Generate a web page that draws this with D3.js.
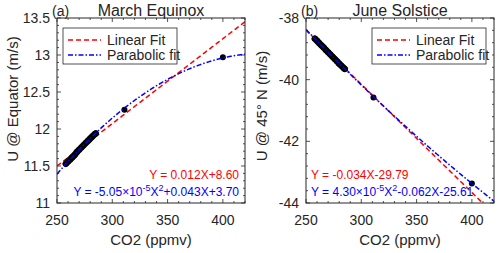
<!DOCTYPE html>
<html>
<head>
<meta charset="utf-8">
<script src="https://cdn.jsdelivr.net/npm/d3@7"></script>
<style>
  body { margin: 0; background: #fff; }
  svg text { font-family: "Liberation Sans", Arial, sans-serif; fill: #262626; }
</style>
</head>
<body>
<div id="chart"></div>
<script>
// ---- data ----
var co2Cluster = [258, 260, 262, 264, 266, 268, 270, 272, 274, 276, 278, 280, 282, 284, 285];
var co2Extra = [311, 400];
var uEquatorCluster = [11.53, 11.56, 11.59, 11.62, 11.65, 11.69, 11.72, 11.75, 11.78, 11.81, 11.84, 11.87, 11.90, 11.93, 11.94];
var uEquatorExtra = [12.26, 12.97];
var u45Cluster = [-38.67, -38.74, -38.82, -38.89, -38.96, -39.04, -39.11, -39.18, -39.26, -39.33, -39.40, -39.48, -39.55, -39.62, -39.65];
var u45Extra = [-40.58, -43.37];

// fit coefficients as drawn  [slope, intercept] and [a, b, c]
var linFitA = [0.01147, 8.632];
var parFitA = [-4.685e-5, 0.04092, 4.088];
var linFitB = [-0.0351, -29.62];
var parFitB = [2.727e-5, -0.05104, -27.314];

var xTicks = [250, 300, 350, 400];
var yTicksA = [11, 11.5, 12, 12.5, 13, 13.5];
var yTicksB = [-44, -42, -40, -38];
var legendLabels = ["Linear Fit", "Parabolic fit"];

var W = 500, H = 253;
var svg = d3.select("#chart").append("svg").attr("width", W).attr("height", H);

function panel(cfg){
	var g = svg.append("g");
	var x = d3.scaleLinear().domain([250, 420]).range([cfg.left, cfg.right]);
	var y = d3.scaleLinear().domain(cfg.ydom).range([203, 18]);
	var clipId = "clip" + cfg.id;
	svg.append("clipPath").attr("id", clipId).append("rect")
		.attr("x", cfg.left).attr("y", 18).attr("width", cfg.right - cfg.left).attr("height", 185);

	// ticks: inward on all four sides
	var minorX = d3.range(250, 421, 10);
	var minorY = d3.range(cfg.ydom[0], cfg.ydom[1] + 1e-9, cfg.minorStep);
	var tk = g.append("g").attr("stroke", "#262626").attr("stroke-width", 0.8);
	minorX.forEach(function(v){
		var len = xTicks.indexOf(v) >= 0 ? 4 : 2;
		tk.append("line").attr("x1", x(v)).attr("x2", x(v)).attr("y1", 203).attr("y2", 203 - len);
		tk.append("line").attr("x1", x(v)).attr("x2", x(v)).attr("y1", 18).attr("y2", 18 + len);
	});
	minorY.forEach(function(v){
		var major = cfg.yTicks.some(function(t){ return Math.abs(t - v) < 1e-6; });
		var len = major ? 4 : 2;
		tk.append("line").attr("y1", y(v)).attr("y2", y(v)).attr("x1", cfg.left).attr("x2", cfg.left + len);
		tk.append("line").attr("y1", y(v)).attr("y2", y(v)).attr("x1", cfg.right).attr("x2", cfg.right - len);
	});

	// tick labels
	g.selectAll(".xt").data(xTicks).enter().append("text")
		.attr("x", function(d){ return x(d); }).attr("y", 225)
		.attr("text-anchor", "middle").attr("font-size", "14px").text(function(d){ return d; });
	g.selectAll(".yt").data(cfg.yTicks).enter().append("text")
		.attr("x", cfg.left - 7).attr("y", function(d){ return y(d) + 5; })
		.attr("text-anchor", "end").attr("font-size", "14px").text(function(d){ return d; });

	// fit lines
	var xs = d3.range(250, 420.5, 1);
	var lines = g.append("g").attr("clip-path", "url(#" + clipId + ")");
	var line = d3.line().x(function(d){ return x(d[0]); }).y(function(d){ return y(d[1]); });
	lines.append("path")
		.datum(xs.map(function(v){ return [v, cfg.lin[0] * v + cfg.lin[1]]; }))
		.attr("d", line).attr("fill", "none").attr("stroke", "#ff0000")
		.attr("stroke-width", 1.5).attr("stroke-dasharray", "5,3");

	// data points
	var pts = cfg.cx.map(function(v, i){ return [v, cfg.cy[i]]; })
		.concat(co2Extra.map(function(v, i){ return [v, cfg.ey[i]]; }));
	lines.selectAll(".pt").data(pts).enter().append("circle")
		.attr("cx", function(d){ return x(d[0]); }).attr("cy", function(d){ return y(d[1]); })
		.attr("r", 3).attr("fill", "#000");
	// thick cluster band
	lines.append("path").datum(cfg.cx.map(function(v, i){ return [v, cfg.cy[i]]; }))
		.attr("d", line).attr("fill", "none").attr("stroke", "#000").attr("stroke-width", 6.5)
		.attr("stroke-linecap", "round");

	lines.append("path")
		.datum(xs.map(function(v){ return [v, cfg.par[0] * v * v + cfg.par[1] * v + cfg.par[2]]; }))
		.attr("d", line).attr("fill", "none").attr("stroke", "#0000ff")
		.attr("stroke-width", 1.5).attr("stroke-dasharray", "5,2,1.5,2");

	// frame
	g.append("rect").attr("x", cfg.left).attr("y", 18).attr("width", cfg.right - cfg.left).attr("height", 185)
		.attr("fill", "none").attr("stroke", "#262626").attr("stroke-width", 1);

	// legend
	var lg = g.append("g");
	lg.append("rect").attr("x", cfg.legX).attr("y", 28).attr("width", cfg.legW).attr("height", 36)
		.attr("fill", "#fff").attr("stroke", "#262626").attr("stroke-width", 0.8);
	[["#ff0000", "5,3"], ["#0000ff", "5,2,1.5,2"]].forEach(function(s, i){
		var yy = 40 + i * 15;
		lg.append("line").attr("x1", cfg.legX + 5).attr("x2", cfg.legX + 38).attr("y1", yy).attr("y2", yy)
			.attr("stroke", s[0]).attr("stroke-width", 1.5).attr("stroke-dasharray", s[1]);
		lg.append("text").attr("x", cfg.legX + 44).attr("y", yy + 5).attr("font-size", "14px").text(legendLabels[i]);
	});

	// equations
	g.append("text").attr("x", cfg.eqX).attr("y", 179).attr("text-anchor", cfg.eqAnchor)
		.attr("font-size", "12px").style("fill", "#ff0000").text(cfg.eqLin);
	var eq2 = g.append("text").attr("x", cfg.eqX).attr("y", 196).attr("text-anchor", cfg.eqAnchor)
		.attr("font-size", "12px").style("fill", "#0000ff");
	eq2.append("tspan").text(cfg.eqPar[0]);
	eq2.append("tspan").attr("dy", -5).attr("font-size", "9px").text(cfg.eqPar[1]);
	eq2.append("tspan").attr("dy", 5).text("X");
	eq2.append("tspan").attr("dy", -5).attr("font-size", "9px").text("2");
	eq2.append("tspan").attr("dy", 5).text(cfg.eqPar[2]);

	// titles and labels
	var cx = (cfg.left + cfg.right) / 2;
	g.append("text").attr("x", cx).attr("y", 16).attr("text-anchor", "middle").attr("font-size", "16px").text(cfg.title);
	g.append("text").attr("x", cfg.left - 5).attr("y", 16).attr("font-size", "14px").text(cfg.tag);
	g.append("text").attr("x", cx).attr("y", 245).attr("text-anchor", "middle").attr("font-size", "15px").text("CO2 (ppmv)");
	g.append("text").attr("transform", "translate(" + cfg.ylabX + "," + cfg.ylabY + ") rotate(-90)")
		.attr("text-anchor", "middle").attr("font-size", "15px").text(cfg.ylab);
}

panel({id: "a", left: 57, right: 245, ydom: [11, 13.5], minorStep: 0.1, yTicks: yTicksA,
	cx: co2Cluster, cy: uEquatorCluster, ey: uEquatorExtra, lin: linFitA, par: parFitA,
	legX: 63, legW: 114, eqX: 239, eqAnchor: "end",
	eqLin: "Y = 0.012X+8.60", eqPar: ["Y = -5.05\u00d710", "-5", "+0.043X+3.70"],
	title: "March Equinox", tag: "(a)", ylab: "U @ Equator (m/s)", ylabX: 18, ylabY: 99});

panel({id: "b", left: 306, right: 494, ydom: [-44, -38], minorStep: 0.4, yTicks: yTicksB,
	cx: co2Cluster, cy: u45Cluster, ey: u45Extra, lin: linFitB, par: parFitB,
	legX: 372, legW: 114, eqX: 311, eqAnchor: "start",
	eqLin: "Y = -0.034X-29.79", eqPar: ["Y = 4.30\u00d710", "-5", "-0.062X-25.61"],
	title: "June Solstice", tag: "(b)", ylab: "U @ 45\u00b0 N (m/s)", ylabX: 267, ylabY: 106});
</script>
</body>
</html>
